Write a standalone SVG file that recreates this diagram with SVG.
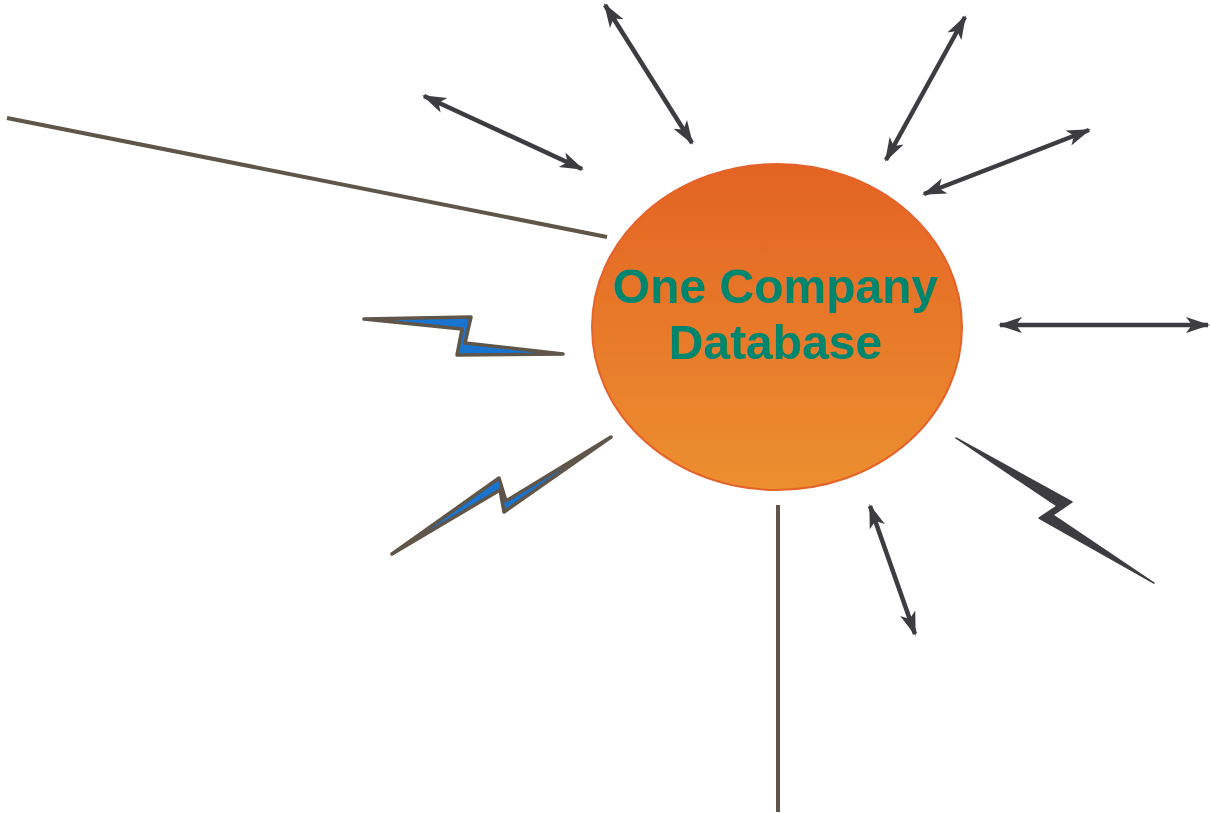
<svg xmlns="http://www.w3.org/2000/svg" width="1210" height="813" viewBox="0 0 1210 813">
<style>
.arrow{stroke:#3d3c41;stroke-width:4.5;fill:none;marker-start:url(#ah);marker-end:url(#ah)}
.line{stroke:#5f5548;stroke-width:4;fill:none}
.bolt{fill:#1874cf;stroke:#5f5548;stroke-width:3.5;stroke-linejoin:round}
.bolt-dark{fill:#3d3c41;stroke:#3d3c41;stroke-width:1.5;stroke-linejoin:round}
.label{font-family:"Liberation Sans",Arial,sans-serif;font-weight:bold;font-size:48px;fill:#00866f;text-anchor:middle}
</style>
<defs>
<linearGradient id="og" x1="0" y1="0" x2="0" y2="1">
<stop offset="0" stop-color="#e36323"/>
<stop offset="1" stop-color="#ec8f30"/>
</linearGradient>
<marker id="ah" viewBox="0 0 24 18" refX="22" refY="9" markerWidth="24" markerHeight="18" markerUnits="userSpaceOnUse" orient="auto-start-reverse">
<path d="M0,1 L24,9 L0,17 L6,9 z" fill="#3d3c41"/>
</marker>
</defs>
<g id="connectors">
<line class="line" x1="7" y1="118" x2="607" y2="237"/>
<line class="line" x1="778" y1="505" x2="778" y2="812"/>
<line class="arrow" x1="605" y1="5" x2="692" y2="143"/>
<line class="arrow" x1="424" y1="96" x2="582" y2="169"/>
<line class="arrow" x1="965" y1="17" x2="886" y2="160"/>
<line class="arrow" x1="1089" y1="130" x2="924" y2="194"/>
<line class="arrow" x1="1000" y1="325" x2="1208" y2="325"/>
<line class="arrow" x1="870" y1="506" x2="915" y2="634"/>
<polygon class="bolt" points="364,319 471,317 465,343 563,354 457,355 462,329"/>
<polygon class="bolt" points="392,554 499,478 506,501 611,437 504,512 500,490"/>
<polygon class="bolt-dark" points="956,438 1072,502 1053,515 1154,583 1039,518 1057,506"/>
</g>
<g id="database">
<ellipse cx="777" cy="327" rx="185" ry="163" fill="url(#og)" stroke="#e5622a" stroke-width="2"/>
<text class="label" x="775" y="303">One Company</text>
<text class="label" x="775" y="359">Database</text>
</g>
</svg>
